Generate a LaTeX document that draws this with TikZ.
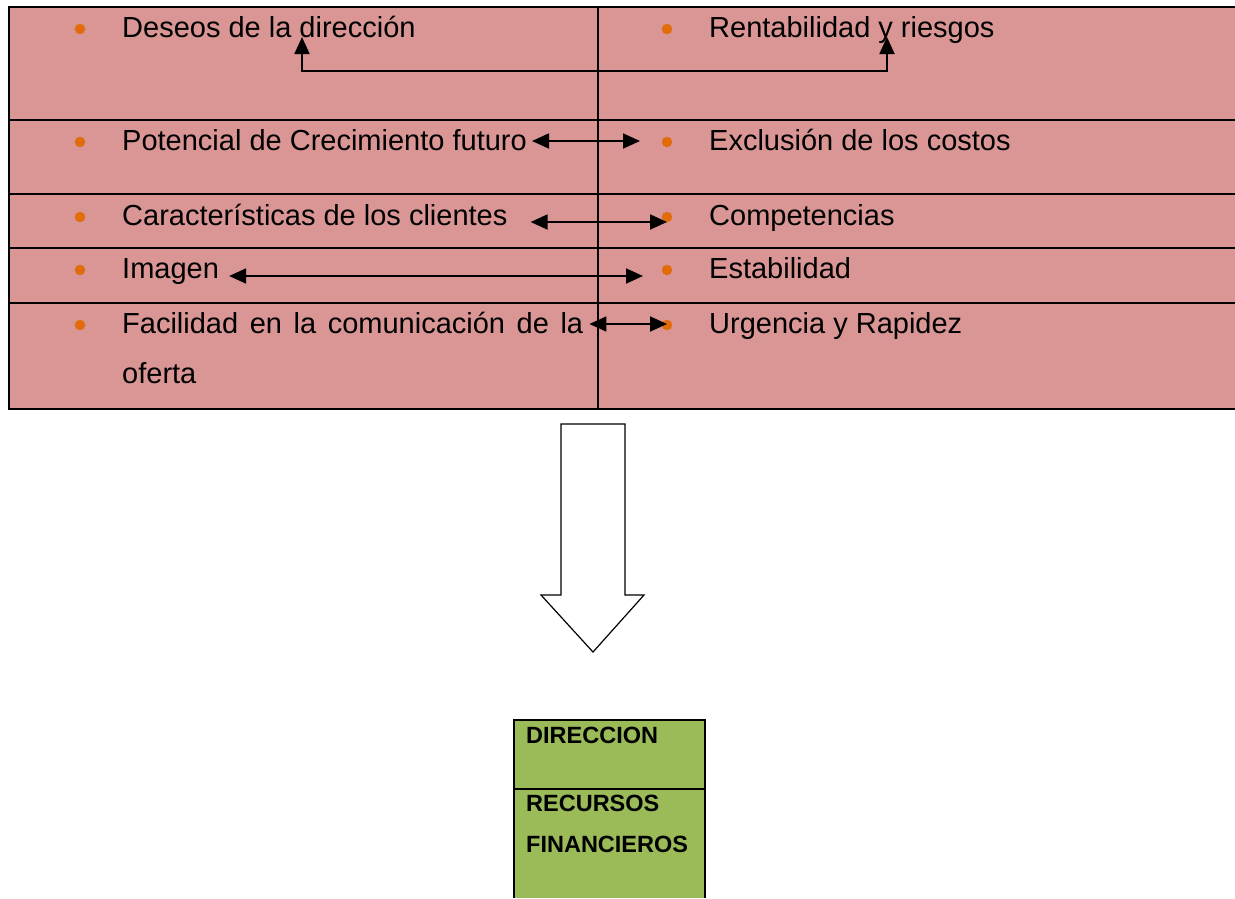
\documentclass[tikz,border=0pt]{standalone}
\usepackage{fontspec}
\setmainfont{Liberation Sans}
\usetikzlibrary{arrows.meta}

\definecolor{rowpink}{HTML}{D99694}
\definecolor{boxgreen}{HTML}{9BBB59}
\definecolor{dotorange}{HTML}{E36C0A}

\tikzset{
  item/.style={anchor=base west, inner sep=0pt, text height=22pt,
    text depth=4pt, font=\fontsize{29}{35}\selectfont},
  dot/.style={circle, fill=dotorange, inner sep=0pt, minimum size=10.5pt},
  link/.style={line width=1.8pt,
    {Triangle[length=17pt,width=15pt]}-{Triangle[length=17pt,width=15pt]}},
  boxtext/.style={anchor=base west, inner sep=0pt,
    font=\fontsize{23.5}{28}\selectfont\bfseries}
}

\begin{document}
\begin{tikzpicture}[x=1pt, y=-1pt]

    \useasboundingbox (0,0) rectangle (1235,898);

    % Draw table background
    \fill[rowpink] (9,7) rectangle (1235,409);

    % Draw bullets of both columns
    \foreach \y/\n in {29/1, 142/2, 217/3, 270/4, 325/5}{
      \node[dot] (bl\n) at (80,\y) {};
      \node[dot] (br\n) at (667,\y) {};
    }

    % Left column
    \node[item] (des) at (122,37) {Deseos de la dirección};
    \node[item] (pot) at (122,150) {Potencial de Crecimiento futuro};
    \node[item] (car) at (122,225) {Características de los clientes};
    \node[item] (ima) at (122,278) {Imagen};
    \node[item] (fac) at (122,333)
      {\makebox[461pt][s]{Facilidad en la comunicación de la}};
    \node[item] (ofe) at (122,383) {oferta};

    % Right column
    \node[item] (ren) at (709,37) {Rentabilidad y riesgos};
    \node[item] (exc) at (709,150) {Exclusión de los costos};
    \node[item] (com) at (709,225) {Competencias};
    \node[item] (est) at (709,278) {Estabilidad};
    \node[item] (urg) at (709,333) {Urgencia y Rapidez};

    % Draw table rules
    \draw[line width=2.4pt] (1235,7) -- (9,7) -- (9,409) -- (1235,409);
    \foreach \y in {120, 194, 248, 303}{
      \draw[line width=2.4pt] (9,\y) -- (1235,\y);
    }
    \draw[line width=2.4pt] (598,7) -- (598,409);

    % Draw links between columns
    \coordinate (dirtip) at (302,37);
    \coordinate (rietip) at (887,37);
    \draw[link] (dirtip) -- ++(0,34) -| (rietip);
    \draw[link] ([xshift=5pt]pot.east)
      -- ([xshift=-27pt]pot.east -| br2.center);
    \draw[link] ([shift={(23pt,-6pt)}]car.east)
      -- ([yshift=-6pt]car.east -| br3.center);
    \draw[link] ([shift={(10pt,-7pt)}]ima.east)
      -- ([shift={(-24pt,-7pt)}]ima.east -| br4.center);
    \draw[link] ([xshift=6pt]fac.east) -- (fac.east -| br5.center);

    % Draw big down arrow
    \draw[line width=1.2pt, fill=white] (561,424) -- (625,424)
      -- (625,595) -- (644,595) -- (593,652) -- (541,595)
      -- (561,595) -- cycle;

    % Draw green box
    \fill[boxgreen] (514,720) rectangle (705,898);
    \draw[line width=2.4pt] (514,898) |- (705,720) -- (705,898);
    \draw[line width=2.4pt] (514,789) -- (705,789);
    \node[boxtext] (dir) at (526,743) {DIRECCION};
    \node[boxtext] (rec) at (526,811) {RECURSOS};
    \node[boxtext] (fin) at (526,852) {FINANCIEROS};

  \end{tikzpicture}
\end{document}
